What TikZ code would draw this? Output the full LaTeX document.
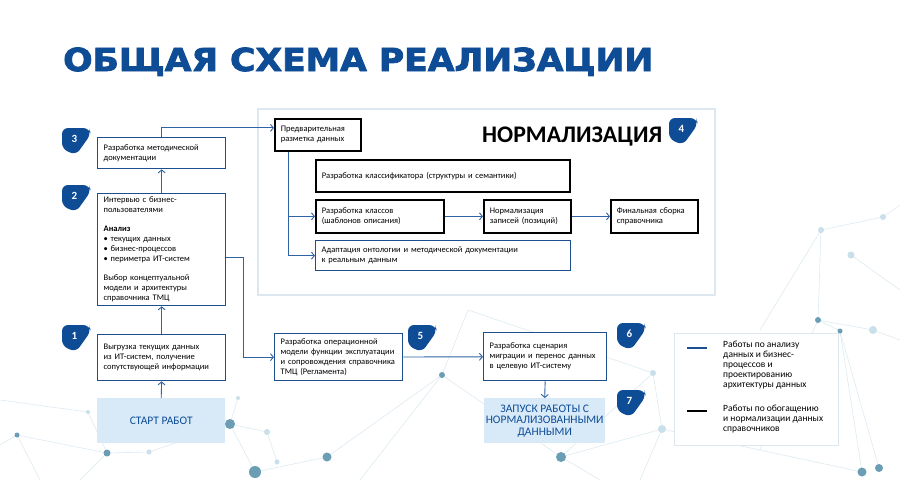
\documentclass[tikz,border=0pt]{standalone}
\usepackage{fontspec}
\usepackage{graphicx}
\setmainfont{Carlito}
\newfontfamily\titlefont{DejaVu Sans}[BoldFeatures={FakeBold=2.5}]
\usetikzlibrary{arrows.meta}
\definecolor{tblue}{HTML}{0E4C96}
\definecolor{bblue}{HTML}{1D4E8F}
\definecolor{ablue}{HTML}{2F63A6}
\definecolor{lfill}{HTML}{D8EAF8}
\definecolor{pborder}{HTML}{DCE7F0}
\definecolor{netline}{HTML}{DDEBF2}
\definecolor{netdot}{HTML}{C9DFEA}
\definecolor{netdark}{HTML}{6B9EB4}
\begin{document}
\begin{tikzpicture}[x=1pt,y=-1pt,
  every node/.style={font=\fontsize{8.5}{10}\selectfont, inner sep=0pt},
  bbox/.style={draw=bblue, line width=1.3pt, fill=white, anchor=north west, inner xsep=6pt, align=left},
  kbox/.style={draw=black, line width=1.7pt, fill=white, anchor=north west, inner xsep=6pt, align=left},
  lbox/.style={fill=lfill, anchor=north west, align=center, text=tblue, font=\fontsize{11.5}{11.5}\selectfont},
  arr/.style={draw=ablue, line width=0.9pt, -{Straight Barb[length=3pt,width=7pt]}},
  lin/.style={draw=ablue, line width=0.9pt},
  net/.style={draw=netline, line width=0.6pt},
  legtext/.style={anchor=north west, align=left, font=\fontsize{9.5}{10}\selectfont},
  pics/badge/.style={code={
    \fill[tblue, rounded corners=6pt] (0,0) -- (27,0) -- (29,6) -- (14,27) -- (0,21) -- cycle;
    \node[text=white, font=\bfseries\fontsize{11}{11}\selectfont] at (12.5,11) {#1};}}
]
\useasboundingbox (0,0) rectangle (900,480);
\fill[white] (0,0) rectangle (900,480);

% background network
\draw[net] (818,320) -- (873,330) -- (900,340);
\draw[net] (818,320) -- (840,331) -- (862,472);
\draw[net] (840,331) -- (879,468);
\draw[net] (821,230) -- (818,320);
\draw[net] (821,230) -- (883,217) -- (900,205);
\draw[net] (821,230) -- (760,330);
\draw[net] (851,255) -- (900,290);
\draw[net] (468,310) -- (442,375) -- (327,457);
\draw[net] (468,310) -- (653,373) -- (561,457);
\draw[net] (442,375) -- (561,457);
\draw[net] (442,375) -- (360,480);
\draw[net] (653,373) -- (662,429) -- (640,480);
\draw[net] (230,424) -- (255,472) -- (327,457);
\draw[net] (230,424) -- (267,432) -- (277,462);
\draw[net] (238,398) -- (230,424);
\draw[net] (107,453) -- (17,435) -- (0,445);
\draw[net] (107,453) -- (149,452) -- (230,424);
\draw[net] (88,412) -- (107,453) -- (80,480);
\draw[net] (17,435) -- (40,480);
\draw[net] (561,457) -- (600,480);
\draw[net] (561,457) -- (662,429) -- (760,450) -- (862,472);
\draw[net] (0,400) -- (88,412);
\draw[net] (760,450) -- (818,320);
\foreach \p/\r in {(883,217)/3,(821,230)/3,(851,255)/3.5,(873,330)/4,(653,373)/3,(662,429)/4,(267,432)/3,(149,452)/2.5,(277,462)/2.5,(238,398)/2,(88,412)/2}
  \fill[netdot] \p circle (\r);
\foreach \p/\r in {(818,320)/3,(840,331)/2.5,(442,375)/3,(561,457)/5,(327,457)/4.5,(255,472)/6,(230,424)/5,(107,453)/3.5,(17,435)/2.5,(862,472)/4.5,(879,468)/4}
  \fill[netdark] \p circle (\r);

% title
\node[anchor=base west, text=tblue] (title) at (63,71)
  {\resizebox{590pt}{23.5pt}{\titlefont\bfseries ОБЩАЯ СХЕМА РЕАЛИЗАЦИИ}};

% normalization panel
\draw[pborder, line width=1.5pt, fill=white] (258,109) rectangle (715,295);
\node[anchor=base west] (normtitle) at (482,142)
  {\resizebox{180pt}{!}{\bfseries НОРМАЛИЗАЦИЯ}};

% left column
\node[bbox, text width=116pt, minimum height=31pt] (b3) at (97,137)
  {Разработка методической\\документации};
\node[bbox, text width=116pt, minimum height=112pt] (b2) at (97,193)
  {Интервью с бизнес-\\пользователями\\[9pt]\textbf{Анализ}\\• текущих данных\\• бизнес-процессов\\• периметра ИТ-систем\\[9pt]Выбор концептуальной\\модели и архитектуры\\справочника ТМЦ};
\node[bbox, text width=116pt, minimum height=46pt] (b1) at (97,334)
  {Выгрузка текущих данных\\из ИТ-систем, получение\\сопутствующей информации};
\node[lbox, minimum width=128pt, minimum height=45pt] (start) at (97,398) {СТАРТ РАБОТ};

% normalization boxes
\node[kbox, text width=74pt, minimum height=32pt] (pre) at (274,118)
  {Предварительная\\разметка данных};
\node[kbox, text width=242pt, minimum height=32pt] (cls) at (315,159)
  {Разработка классификатора (структуры и семантики)};
\node[kbox, text width=116pt, minimum height=33pt] (klass) at (315,199)
  {Разработка классов\\(шаблонов описания)};
\node[kbox, text width=75pt, minimum height=33pt] (norm) at (483,199)
  {Нормализация\\записей (позиций)};
\node[kbox, text width=75pt, minimum height=33pt] (final) at (610,199)
  {Финальная сборка\\справочника};
\node[bbox, text width=243pt, minimum height=30pt] (adapt) at (315,240)
  {Адаптация онтологии и методической документации\\к реальным данным};

% lower row
\node[bbox, text width=116pt, minimum height=47pt] (b5) at (274,333)
  {Разработка операционной\\модели функции эксплуатации\\и сопровождения справочника\\ТМЦ (Регламента)};
\node[bbox, text width=111pt, minimum height=48pt] (b6) at (483,332)
  {Разработка сценария\\миграции и перенос данных\\в целевую ИТ-систему};
\node[lbox, minimum width=121pt, minimum height=45pt] (launch) at (484,398)
  {ЗАПУСК РАБОТЫ С\\НОРМАЛИЗОВАННЫМИ\\ДАННЫМИ};

% badges
\pic at (62,128) {badge=3};
\pic at (62,185) {badge=2};
\pic at (62,325) {badge=1};
\pic at (669,118) {badge=4};
\pic at (408,325) {badge=5};
\pic at (617,323) {badge=6};
\pic at (617,390) {badge=7};

% connectors
\draw[arr] (start.north) -- (b1.south);
\draw[arr] (b1.north) -- (b2.south);
\draw[arr] (b2.north) -- (b3.south);
\draw[arr] (b3.north) |- (pre.171);
\draw[arr] (b2.353) -- ++(17,0) |- (b5.west);
\draw[arr] ([xshift=14pt]pre.south west) |- (klass.west);
\draw[arr] ([xshift=14pt]pre.south west) |- (adapt.west);
\draw[arr] (klass) -- (norm);
\draw[arr] (norm) -- (final);
\draw[arr] (b5) -- (b6);
\draw[arr] (b6.south) -- (launch.north);

% legend
\draw[draw=pborder, line width=1pt, fill=white] (674,333) rectangle (838,445);
\draw[bblue, line width=2.6pt] (687,348) -- (707,348);
\draw[black, line width=2.6pt] (687,411) -- (707,411);
\node[legtext] (leg1) at (723,341)
  {Работы по анализу\\данных и бизнес-\\процессов и\\проектированию\\архитектуры данных};
\node[legtext] (leg2) at (723,405)
  {Работы по обогащению\\и нормализации данных\\справочников};
\end{tikzpicture}
\end{document}
